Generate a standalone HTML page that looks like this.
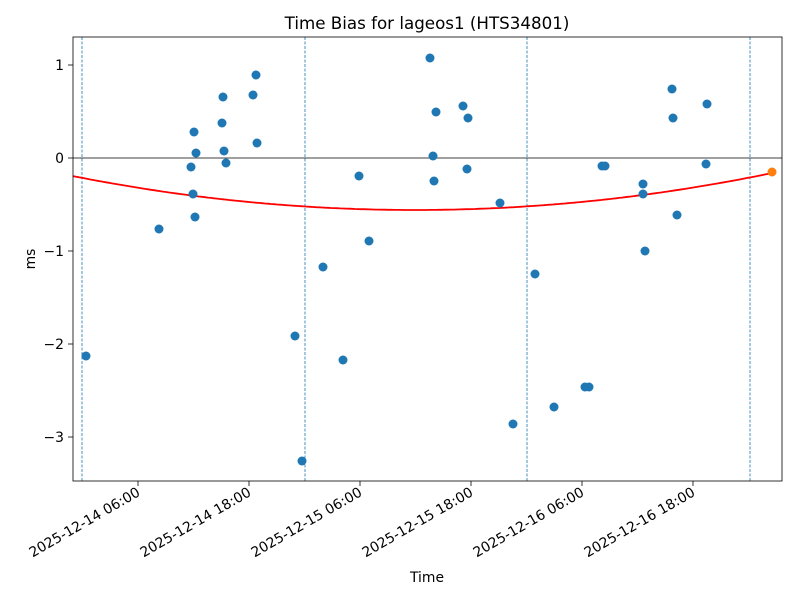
<!DOCTYPE html>
<html><head><style>body{margin:0;background:#fff}svg{display:block}text{font-family:"DejaVu Sans","Liberation Sans",sans-serif;fill:#000}</style></head><body>
<svg width="800" height="600" xmlns="http://www.w3.org/2000/svg">
<rect width="800" height="600" fill="#fff"/>
<text x="427" y="29" font-size="16.7" text-anchor="middle">Time Bias for lageos1 (HTS34801)</text>
<g stroke="#1f77b4" stroke-width="0.8" stroke-dasharray="3,1.5">
<line x1="82" y1="37" x2="82" y2="481"/><line x1="305" y1="37" x2="305" y2="481"/><line x1="527" y1="37" x2="527" y2="481"/><line x1="750" y1="37" x2="750" y2="481"/>
</g>
<line x1="73" y1="158" x2="782" y2="158" stroke="#000" stroke-width="0.8"/>
<path id="c" fill="none" stroke="red" stroke-width="1.8" d=""/>
<g fill="#1f77b4">
<circle cx="86" cy="356" r="4.5"/><circle cx="159" cy="229" r="4.5"/><circle cx="191" cy="167" r="4.5"/><circle cx="193" cy="194" r="4.5"/><circle cx="194" cy="132" r="4.5"/><circle cx="195" cy="217" r="4.5"/><circle cx="196" cy="153" r="4.5"/><circle cx="222" cy="123" r="4.5"/><circle cx="223" cy="97" r="4.5"/><circle cx="224" cy="151" r="4.5"/><circle cx="226" cy="163" r="4.5"/><circle cx="253" cy="95" r="4.5"/><circle cx="256" cy="75" r="4.5"/><circle cx="257" cy="143" r="4.5"/><circle cx="295" cy="336" r="4.5"/><circle cx="302" cy="461" r="4.5"/><circle cx="323" cy="267" r="4.5"/><circle cx="343" cy="360" r="4.5"/><circle cx="359" cy="176" r="4.5"/><circle cx="369" cy="241" r="4.5"/><circle cx="430" cy="58" r="4.5"/><circle cx="433" cy="156" r="4.5"/><circle cx="434" cy="181" r="4.5"/><circle cx="436" cy="112" r="4.5"/><circle cx="463" cy="106" r="4.5"/><circle cx="467" cy="169" r="4.5"/><circle cx="468" cy="118" r="4.5"/><circle cx="500" cy="203" r="4.5"/><circle cx="513" cy="424" r="4.5"/><circle cx="535" cy="274" r="4.5"/><circle cx="554" cy="407" r="4.5"/><circle cx="585" cy="387" r="4.5"/><circle cx="589" cy="387" r="4.5"/><circle cx="602" cy="166" r="4.5"/><circle cx="605" cy="166" r="4.5"/><circle cx="643" cy="184" r="4.5"/><circle cx="643" cy="194" r="4.5"/><circle cx="645" cy="251" r="4.5"/><circle cx="672" cy="89" r="4.5"/><circle cx="673" cy="118" r="4.5"/><circle cx="677" cy="215" r="4.5"/><circle cx="706" cy="164" r="4.5"/><circle cx="707" cy="104" r="4.5"/>
</g>
<circle cx="772" cy="172" r="4.5" fill="#ff7f0e"/>
<rect x="73" y="37" width="709" height="444" fill="none" stroke="#000" stroke-width="0.8"/>
<g stroke="#000" stroke-width="0.8">
<line x1="68" y1="65" x2="73" y2="65"/><line x1="68" y1="158" x2="73" y2="158"/><line x1="68" y1="251" x2="73" y2="251"/><line x1="68" y1="344" x2="73" y2="344"/><line x1="68" y1="437" x2="73" y2="437"/>
<line x1="138" y1="481" x2="138" y2="486"/><line x1="249" y1="481" x2="249" y2="486"/><line x1="360" y1="481" x2="360" y2="486"/><line x1="471" y1="481" x2="471" y2="486"/><line x1="582" y1="481" x2="582" y2="486"/><line x1="693" y1="481" x2="693" y2="486"/>
</g>
<g font-size="13.9" text-anchor="end">
<text x="64" y="70">1</text><text x="64" y="163">0</text><text x="64" y="256">−1</text><text x="64" y="349">−2</text><text x="64" y="442">−3</text>
</g>
<g font-size="13.9" text-anchor="end">
<text transform="translate(141,495) rotate(-30)">2025-12-14 06:00</text>
<text transform="translate(252,495) rotate(-30)">2025-12-14 18:00</text>
<text transform="translate(363,495) rotate(-30)">2025-12-15 06:00</text>
<text transform="translate(474,495) rotate(-30)">2025-12-15 18:00</text>
<text transform="translate(585,495) rotate(-30)">2025-12-16 06:00</text>
<text transform="translate(696,495) rotate(-30)">2025-12-16 18:00</text>
</g>
<text x="427" y="582" font-size="13.9" text-anchor="middle">Time</text>
<text transform="translate(35,259) rotate(-90)" font-size="13.9" text-anchor="middle">ms</text>
<script>
var d="";for(var x=73;x<=772;x+=3){var y=210-0.00029*(x-415)*(x-415);d+=(x==73?"M":"L")+x+","+y.toFixed(1);}
document.getElementById("c").setAttribute("d",d);
</script>
</svg>
</body></html>
